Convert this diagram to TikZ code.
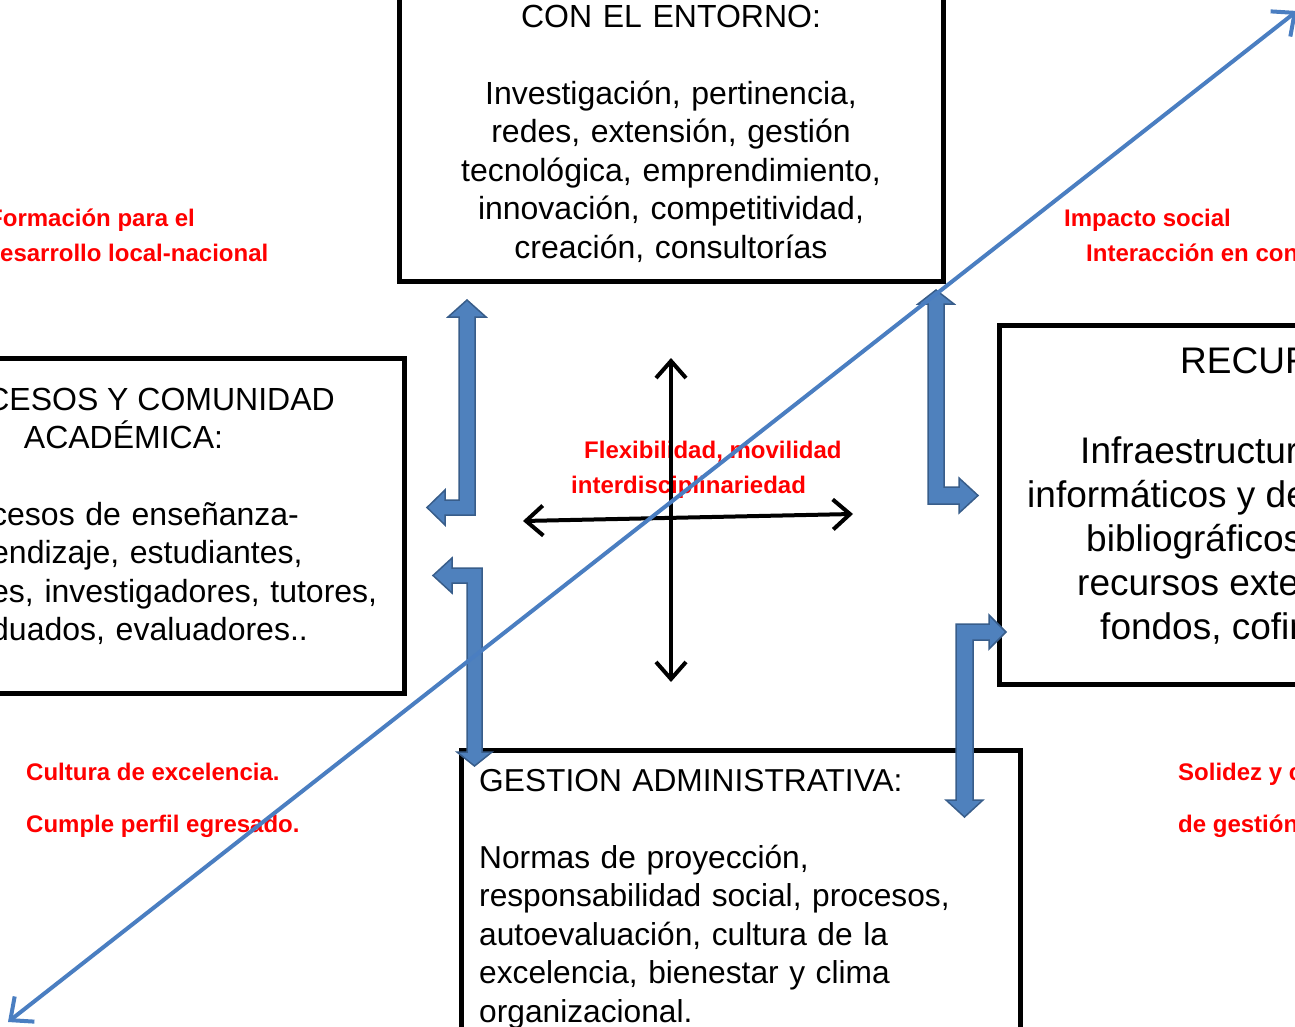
\documentclass[tikz,border=0pt]{standalone}
\usepackage{fontspec}
\setmainfont{Liberation Sans}
\usetikzlibrary{arrows.meta}
\definecolor{arrowfill}{RGB}{79,129,189}
\definecolor{arrowedge}{RGB}{56,93,138}
\definecolor{diaglink}{RGB}{74,126,193}
\tikzset{
    boxline/.style={line width=5pt},
    boxtext/.style={inner sep=0pt, font=\fontsize{32}{38.5}\selectfont},
    bigtext/.style={inner sep=0pt, anchor=base west, font=\fontsize{37}{44}\selectfont},
    redtext/.style={inner sep=0pt, anchor=base west, text=red, font=\bfseries\fontsize{24}{35}\selectfont},
    bentarrow/.style={fill=arrowfill, draw=arrowedge, line width=1.5pt},
    crossarrow/.style={line width=4pt, line cap=round,
        {Straight Barb[length=17pt,width=30pt]}-{Straight Barb[length=17pt,width=30pt]}},
    diagline/.style={diaglink, line width=4pt,
        {Straight Barb[length=18pt,width=32pt]}-{Straight Barb[length=18pt,width=32pt]}}
}

\begin{document}
\begin{tikzpicture}[x=1pt, y=-1pt]
    \useasboundingbox (0, 0) rectangle (1295, 1027);
    \clip (0, 0) rectangle (1295, 1027);

    % boxes
    \draw[boxline] (399, -10) rectangle (943, 281);
    \draw[boxline] (-10, 358) rectangle (404, 693);
    \draw[boxline] (999, 325) rectangle (1310, 684);
    \draw[boxline] (461, 750) rectangle (1020, 1040);

    % box texts
    \node[boxtext, anchor=base, text width=560pt, align=center] (entorno) at (671, 27.5)
        {CON EL ENTORNO:\\[38.5pt]Investigación, pertinencia,\\redes, extensión, gestión\\tecnológica, emprendimiento,\\innovación, competitividad,\\creación, consultorías};
    \node[boxtext, anchor=base east] (academica) at (335, 410) {CESOS Y COMUNIDAD};
    \node[boxtext, anchor=base] (academicab) at (123.5, 448.5) {ACADÉMICA:};
    \node[boxtext, anchor=base west, text width=500pt, align=left] (procesos) at (-9, 525)
        {cesos de enseñanza-\\endizaje, estudiantes,\\es, investigadores, tutores,\\duados, evaluadores..};
    \node[boxtext, anchor=base west, text width=540pt, align=left, font=\fontsize{31.7}{38.5}\selectfont] (gestion) at (479, 791)
        {GESTION ADMINISTRATIVA:\\[38.5pt]Normas de proyección,\\responsabilidad social, procesos,\\autoevaluación, cultura de la\\excelencia, bienestar y clima\\organizacional.};
    \foreach \i/\px/\py/\txt in {1/1180/373/RECUR, 2/1080/463/Infraestructur,
            {3/1027/507/informáticos y de}, 4/1086/551/bibliográficos,
            {5/1077/595/recursos exte}, {6/1100/639/fondos, cofin}}
        \node[bigtext] (recursos\i) at (\px, \py) {\txt};

    % red labels
    \node[redtext] (formacion) at (-12, 226) {Formación para el};
    \node[redtext] (desarrollo) at (0, 261) {esarrollo local-nacional};
    \node[redtext] (impacto) at (1064, 226) {Impacto social};
    \node[redtext] (interaccion) at (1086, 261) {Interacción en con};
    \node[redtext] (flexibilidad) at (584, 458) {Flexibilidad, movilidad};
    \node[redtext] (interdisc) at (571, 493) {interdisciplinariedad};
    \node[redtext] (cultura) at (26, 780) {Cultura de excelencia.};
    \node[redtext] (perfil) at (26, 832) {Cumple perfil egresado.};
    \node[redtext] (solidez) at (1178, 780) {Solidez y c};
    \node[redtext] (degestion) at (1178, 832) {de gestión};

    % bent arrows
    \draw[bentarrow] (467, 300) -- (486, 317) -- (475, 317) -- (475, 515) -- (445, 515) -- (445, 525)
        -- (427, 507.5) -- (445, 490) -- (445, 500) -- (459, 500) -- (459, 317) -- (448, 317) -- cycle;
    \draw[bentarrow] (433, 575.5) -- (452, 558) -- (452, 568) -- (482, 568) -- (482, 752) -- (492, 752)
        -- (474.5, 766) -- (457, 752) -- (467, 752) -- (467, 583) -- (452, 583) -- (452, 593) -- cycle;
    \draw[bentarrow] (936, 290) -- (954, 304) -- (944, 304) -- (944, 487) -- (959, 487) -- (959, 478)
        -- (978, 495.5) -- (959, 513) -- (959, 504) -- (928, 504) -- (928, 304) -- (918, 304) -- cycle;
    \draw[bentarrow] (1006, 632) -- (989, 615) -- (989, 624) -- (956, 624) -- (956, 800) -- (946, 800)
        -- (964.5, 817) -- (983, 800) -- (973, 800) -- (973, 640) -- (989, 640) -- (989, 649) -- cycle;

    % cross
    \coordinate (crossN) at (671, 358);
    \coordinate (crossS) at (671, 682);
    \coordinate (crossW) at (523, 521);
    \coordinate (crossE) at (853, 514);
    \draw[crossarrow] (crossS) -- (crossN);
    \draw[crossarrow] (crossW) -- (crossE);

    % diagonal
    \coordinate (diagSW) at (8, 1022);
    \coordinate (diagNE) at (1297, 11);
    \draw[diagline] (diagSW) -- (diagNE);
\end{tikzpicture}
\end{document}
